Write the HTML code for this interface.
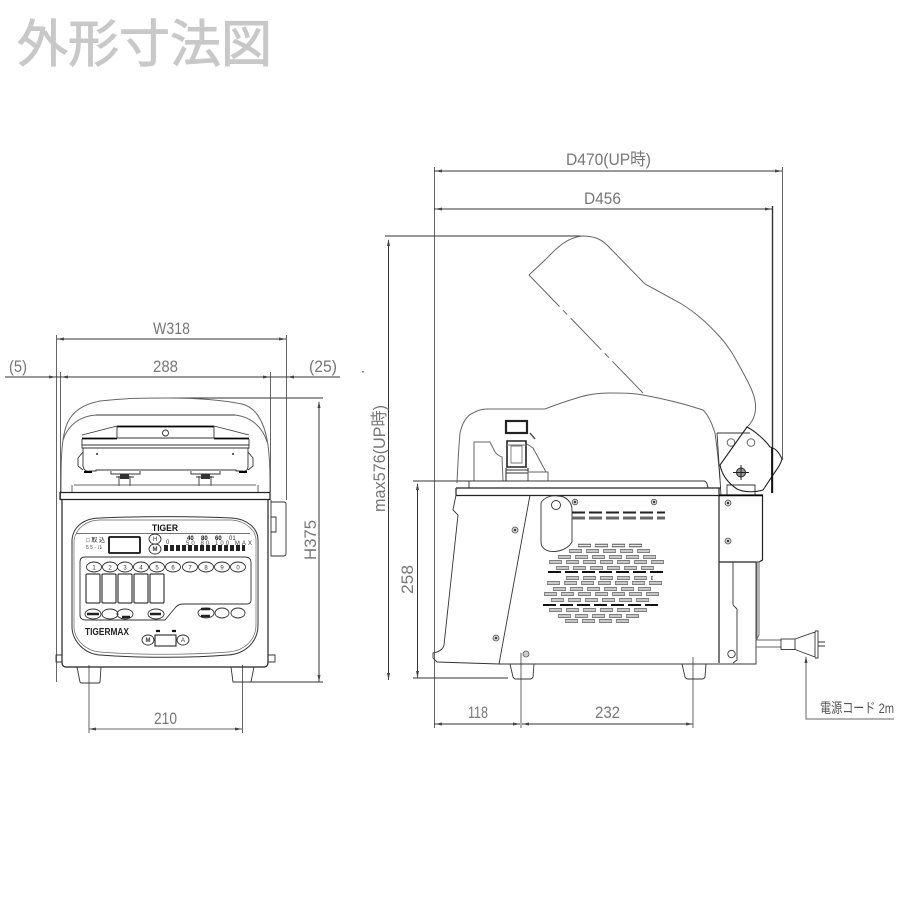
<!DOCTYPE html>
<html lang="ja">
<head>
<meta charset="utf-8">
<title>外形寸法図</title>
<style>
html,body{margin:0;padding:0;background:#fff;width:900px;height:900px;overflow:hidden}
svg{display:block;filter:blur(.35px)}
text{font-family:"Liberation Sans","Noto Sans CJK JP",sans-serif}
.d{font-size:17px;fill:#777;text-anchor:start}
path,rect,circle,ellipse{vector-effect:none}
.l{fill:none;stroke:#333;stroke-width:.9}
.g{fill:none;stroke:#666;stroke-width:1}
.dk{fill:none;stroke:#333;stroke-width:1}
.t{fill:none;stroke:#222;stroke-width:1.2}
.s{fill:none;stroke:#555;stroke-width:3.6;stroke-dasharray:13 4}
.w{fill:none;stroke:#eee;stroke-width:1.4;stroke-dasharray:12 5}
.a{fill:#444}
.sc{fill:#ccc;stroke:#555;stroke-width:.8}
.p{font-size:6px;fill:#333;text-anchor:middle}
</style>
</head>
<body>
<svg width="900" height="900" viewBox="0 0 900 900" xmlns="http://www.w3.org/2000/svg">
<rect width="900" height="900" fill="#fff"/>
<text x="17" y="62" font-size="51" fill="#c8c8c8" stroke="#c8c8c8" stroke-width="1" style="font-family:'Noto Sans CJK JP',sans-serif">外形寸法図</text>

<!-- ===== FRONT VIEW dimensions ===== -->
<path class="g" d="M56.500 335V682M286.500 335V500M60.500 372V500M270.500 372V492"/>
<path class="dk" d="M57 339H286M5 377H340M168 398H323M243 682H323M319 402V682"/>
<path class="g" d="M89 665V733M242.500 665V733M89 729H242"/>
<path class="a" d="M57 339l7-1.500v3zM286 339l-7-1.500v3zM56 377l-7-1.500v3zM61 377l7-1.500v3zM270 377l-7-1.500v3zM287 377l7-1.500v3zM319 401l-1.500 7h3zM319 682l-1.500-7h3zM89 729l7-1.500v3zM242 729l-7-1.500v3z"/>
<text class="d" x="153" y="334" textLength="37" lengthAdjust="spacingAndGlyphs">W318</text>
<text class="d" x="153" y="372" textLength="25" lengthAdjust="spacingAndGlyphs">288</text>
<text class="d" x="9" y="372" textLength="18" lengthAdjust="spacingAndGlyphs">(5)</text>
<text class="d" x="309" y="372" textLength="28" lengthAdjust="spacingAndGlyphs">(25)</text>
<text class="d" transform="translate(316 560) rotate(-90)" textLength="40" lengthAdjust="spacingAndGlyphs">H375</text>
<text class="d" x="154" y="724" textLength="23" lengthAdjust="spacingAndGlyphs">210</text>

<!-- ===== FRONT VIEW hood ===== -->
<path class="g" d="M61 492C61 465 61 445 65 430C69 414 80 405 100 401C125 398 145 398 168 398C195 398 222 400 242 404C258 408 265 425 268 445C270 460 270 475 270 492"/>
<path class="g" d="M63 440C68 425 80 416 96 415H235C252 417 263 428 267 442"/>
<path class="l" d="M96 415H235"/>
<path class="l" d="M82 435L117 426M214 426L249 435"/>
<path style="fill:none;stroke:#000;stroke-width:1.800" d="M117 426.500H214M82 438.500H117M214 438.500H249"/>
<path class="l" d="M117 426V438H214V426"/>
<circle class="l" cx="165.500" cy="433" r="3"/>
<path class="l" d="M82 439V448H249V439M82 445H249"/>
<path class="l" d="M83 448V466Q84 472 90 471H96V470H236V471H242Q248 472 248 466V448"/>
<path style="fill:none;stroke:#000;stroke-width:2" d="M84 472h8M239 472h8"/>
<path class="l" d="M83 452L78 458V466L83 470M248 452L253 458V466L248 470"/>
<circle cx="97" cy="454" r="1" fill="#333"/><circle cx="233" cy="454" r="1" fill="#333"/>
<path class="l" d="M111 471V474H140V471M191 471V474H220V471M119 476V486M130 476V486M199 476V486M211 476V486M116 477h18M196 477h18"/>
<path d="M120 474h9v5h-9zM201 474h9v5h-9z" fill="#333"/>
<path class="g" d="M72 485V492M258 485V492M74 485H256"/>
<path class="t" d="M60 492.500H270M60 499.500H270M60 492V500M270 492V500"/>

<!-- ===== FRONT body ===== -->
<path class="t" d="M62 500V662Q62 667 66 667H264Q268 667 268 662V500"/>
<path class="l" d="M62 655H56V662H62M268 655H275V662H268"/>
<path class="l" d="M271 502H284Q286 502 286 504V553Q286 556 284 556H271V500M271 517H276V532H271"/>
<path class="l" d="M77 667L80 682Q80 683 82 683H98Q100 683 100 682L101 667M231 667L233 682H251L254 667"/>

<!-- panel -->
<path class="dk" d="M72 540C73 526 85 518 100 518C150 516 190 516 232 518C247 519 258 528 258 540V625C258 642 245 654 228 655C190 658 140 658 100 655C85 654 73 642 72 628Z"/>
<path style="fill:none;stroke:#666;stroke-width:.7" d="M74 540C76 528 87 520 100 520H232C245 521 256 530 256 540V625C256 640 244 651 228 652C190 655 140 655 100 652C86 651 75 640 74 628Z"/>
<text x="152" y="531" font-size="9" font-weight="bold" fill="#111" textLength="26" lengthAdjust="spacingAndGlyphs">TIGER</text>
<path style="fill:none;stroke:#444;stroke-width:.7" d="M76 533.500H250"/>
<rect x="109" y="537" width="31" height="16" rx="1" fill="none" stroke="#111" stroke-width="1.800"/>
<text x="86" y="542" font-size="6" fill="#222">□ 取 込</text>
<text x="86" y="549" font-size="5" fill="#444">5 5 - ル</text>
<ellipse class="l" cx="155" cy="539" rx="6" ry="5"/><ellipse class="l" cx="155" cy="549" rx="6" ry="5"/>
<text class="p" x="155" y="541">H</text><text class="p" x="155" y="551" font-weight="bold">M</text>
<path d="M164 548H245" stroke="#222" stroke-width="6" stroke-dasharray="4 2" fill="none"/>
<text x="166" y="544" font-size="6" fill="#333">0</text>
<text x="187" y="540" font-size="6" font-weight="bold" fill="#111">40</text>
<text x="201" y="540" font-size="6" font-weight="bold" fill="#111">80</text>
<text x="215" y="540" font-size="6" font-weight="bold" fill="#111">60</text>
<text x="229" y="540" font-size="6" fill="#333">01</text>
<text x="186" y="545" font-size="6" fill="#444" textLength="66">50 80 100 MAX</text>

<!-- button area -->
<path class="l" d="M85 557H245Q251 557 251 563V600Q251 604 247 604H183Q178 604 175 608L165 620H86Q80 620 80 615V562Q80 557 85 557Z"/>
<g class="l">
<ellipse cx="94" cy="567" rx="7.500" ry="5"/><ellipse cx="110" cy="567" rx="7.500" ry="5"/><ellipse cx="125" cy="567" rx="7.500" ry="5"/><ellipse cx="141" cy="567" rx="7.500" ry="5"/><ellipse cx="157" cy="567" rx="7.500" ry="5"/><ellipse cx="173" cy="567" rx="7.500" ry="5"/><ellipse cx="190" cy="567" rx="7.500" ry="5"/><ellipse cx="206" cy="567" rx="7.500" ry="5"/><ellipse cx="222" cy="567" rx="7.500" ry="5"/><ellipse cx="238" cy="567" rx="7.500" ry="5"/>
</g>
<g class="p"><text x="94" y="569.500">1</text><text x="110" y="569.500">2</text><text x="125" y="569.500">3</text><text x="141" y="569.500">4</text><text x="157" y="569.500">5</text><text x="173" y="569.500">6</text><text x="190" y="569.500">7</text><text x="206" y="569.500">8</text><text x="222" y="569.500">9</text><text x="238" y="569.500">0</text></g>
<g fill="none" stroke="#111" stroke-width="1">
<rect x="86" y="574" width="14" height="29" rx="1"/><rect x="102" y="574" width="14" height="29" rx="1"/><rect x="118" y="574" width="14" height="29" rx="1"/><rect x="134" y="574" width="14" height="29" rx="1"/><rect x="150" y="574" width="14" height="29" rx="1"/>
</g>
<g class="l"><ellipse cx="93" cy="614" rx="8" ry="5"/><ellipse cx="110" cy="614" rx="8" ry="5"/><ellipse cx="125" cy="614" rx="8" ry="5"/><ellipse cx="156" cy="614" rx="8" ry="5"/><ellipse cx="206" cy="613" rx="8" ry="5"/><ellipse cx="222" cy="613" rx="7" ry="5"/><ellipse cx="238" cy="613" rx="7" ry="5"/></g>
<path d="M87 614h12M150 614h11M122 617h8M201 609h9M201 616h9" stroke="#222" stroke-width="2.400" fill="none"/>
<text x="85" y="635" font-size="10" font-weight="bold" fill="#222" textLength="44" lengthAdjust="spacingAndGlyphs">TIGERMAX</text>
<rect x="155" y="635" width="21" height="11" fill="none" stroke="#111" stroke-width="1"/>
<ellipse class="l" cx="148" cy="640" rx="6" ry="5"/><ellipse class="l" cx="183" cy="640" rx="6" ry="5"/>
<text class="p" x="148" y="642" font-weight="bold">M</text><text class="p" x="183" y="642">A</text>
<path d="M156 631h4M172 631h4" stroke="#111" stroke-width="2.200"/>

<!-- ===== SIDE VIEW dimensions ===== -->
<path class="g" d="M434.500 167V728M782.500 167V460"/>
<path style="fill:none;stroke:#333;stroke-width:1.400" d="M772.500 206V493"/>
<path class="dk" d="M434 171H782M434 209H772M385 236H581M388.500 240V680M413 481H470M413 678H508M417.500 484V678M434 724H520M522 724H693"/>
<path class="g" d="M521 653V728M693 657V728"/>
<path class="a" d="M435 171l7-1.500v3zM782 171l-7-1.500v3zM435 209l7-1.500v3zM772 209l-7-1.500v3zM388.500 239l-1.500 7h3zM388.500 680l-1.500-7h3zM417.500 483l-1.500 7h3zM417.500 678l-1.500-7h3zM435 724l7-1.500v3zM520 724l-7-1.500v3zM522 724l7-1.500v3zM693 724l-7-1.500v3z"/>
<text class="d" x="566" y="165" textLength="85" lengthAdjust="spacingAndGlyphs">D470(UP時)</text>
<text class="d" x="584" y="204" textLength="37" lengthAdjust="spacingAndGlyphs">D456</text>
<text class="d" transform="translate(385 512) rotate(-90)" textLength="107" lengthAdjust="spacingAndGlyphs">max576(UP時)</text>
<text class="d" transform="translate(413 594) rotate(-90)" textLength="29" lengthAdjust="spacingAndGlyphs">258</text>
<text class="d" x="468" y="718" textLength="20" lengthAdjust="spacingAndGlyphs">118</text>
<text class="d" x="595" y="718" textLength="25" lengthAdjust="spacingAndGlyphs">232</text>

<!-- lid -->
<path class="g" d="M529 275L545 260C555 250 565 238 582 236C592 236 600 238 607 245L645 284L680 303C698 314 710 326 720 337C730 348 735 358 740 367C750 385 755 395 755.500 405C756 414 753 422 746 428"/>
<path style="fill:none;stroke:#666;stroke-width:1;stroke-dasharray:44 5 6 5" d="M529 275L643 393"/>
<!-- hood -->
<path class="g" d="M457 483C458 460 459 445 460 433C463 420 468 415 473 413C478 410 482 409 487 409H545C555 405 567 401 580 397C590 394 600 393 610 393C622 393 633 393 643 395C665 399 685 404 703 410C709 416 712 424 715 433C717 448 719 465 720 480"/>
<!-- handle/detail -->
<rect x="506" y="421" width="21" height="12" fill="none" stroke="#222" stroke-width="2.200"/>
<path d="M530 433L535 439" stroke="#555" stroke-width="1.500"/>
<path class="g" d="M474 481V442H490L495 452C498 456 500 456 502 457L503 481"/>
<path d="M507 441H526V467H507Z" fill="none" stroke="#222" stroke-width="1.600"/>
<path style="fill:none;stroke:#777;stroke-width:.9" d="M511 446H522V463H511ZM507 445H526"/>
<path style="fill:none;stroke:#333;stroke-width:1.100" d="M506 468V481M528 468V481M506 470H528M506 473H528"/>
<path class="g" d="M527 444L533 448L546 472"/>
<path class="g" d="M528 472H548V481H528Z"/>
<path class="l" d="M469 481V488M469 481H704Q707 481 708 488"/>
<path class="t" d="M456 488H721M456 495.500H720M456 488V495"/>

<!-- hinge -->
<path class="l" d="M717 433H750M717 433L721 495"/>
<path class="l" d="M727 495V485H755V495"/>
<circle class="g" cx="731" cy="442.500" r="3.800"/><circle class="g" cx="751" cy="442.500" r="3.800"/>
<path style="fill:none;stroke:#222;stroke-width:1.100" d="M747 427L720 465C722 475 728 483 737 489C745 493 756 492 763 490L775 472C778 468 781 463 782 459C779 452 775 448 770 447C765 440 755 431 747 427Z"/>
<path style="fill:none;stroke:#111;stroke-width:1.800" d="M772 448V493"/>
<circle cx="741" cy="472.500" r="4.500" fill="#999" stroke="#222"/><path d="M741 465V480M733 472.500H749" stroke="#222" stroke-width="1"/>

<!-- body side -->
<path class="l" d="M456 495L453 510L458 515L444 645C443 650 438 652 433 653L433 658L437 662L499 664H756V562M499 664L530 495"/>
<path class="t" d="M719 488V663M719 495H762.500V560L759 562H719"/>
<path style="fill:none;stroke:#000;stroke-width:1.600" d="M719 495.500H763"/>
<path class="l" d="M733 562V605L737 609V660L733 663"/>
<circle class="l" cx="731.500" cy="654" r="3.700"/>
<path class="g" d="M756 562H759V635L756 640M757 562V640"/>
<!-- feet -->
<path class="l" d="M510 664L513 677Q514 679 516 679H530Q532 679 533 677L534 664M682 664L685 677Q686 679 688 679H702Q704 679 705 677L706 664"/>

<!-- flap -->
<path class="l" d="M541 503C544 497 552 495 558 496C566 496 572 502 572 510V542C566 552 552 553 546 550C541 547 541 544 541 540Z"/>
<circle class="l" cx="556" cy="505" r="4.500"/>

<!-- screws -->
<circle class="sc" cx="515" cy="530" r="3"/><circle class="sc" cx="496" cy="638" r="3"/><circle class="sc" cx="575" cy="502" r="2.800"/><circle class="sc" cx="654" cy="502" r="2.800"/><circle class="sc" cx="728" cy="503" r="3"/><circle class="sc" cx="728" cy="541" r="3"/><circle class="sc" cx="526" cy="654" r="3"/>
<circle cx="515" cy="530" r="1" fill="#111"/><circle cx="496" cy="638" r="1" fill="#111"/><circle cx="575" cy="502" r="1" fill="#111"/><circle cx="654" cy="502" r="1" fill="#111"/><circle cx="728" cy="503" r="1" fill="#111"/><circle cx="728" cy="541" r="1" fill="#111"/>

<!-- upper slots -->
<path d="M572 512.500H665" stroke="#222" stroke-width="2" stroke-dasharray="13 4" fill="none"/>
<path d="M572 518H665" stroke="#666" stroke-width="3" stroke-dasharray="13 4" fill="none"/>

<!-- vent slots -->
<g>
<path class="s" d="M578 545.500H642"/><path class="s" d="M569 551H650"/><path class="s" d="M558 557H657"/><path class="s" d="M549 562H665"/><path class="s" d="M556 568H655"/><path class="s" d="M566 578H653"/><path class="s" d="M547 583H662"/><path class="s" d="M553 589H652"/><path class="s" d="M544 594H660"/><path class="s" d="M551 600H649"/><path class="s" d="M549 610H647"/><path class="s" d="M558 616H639"/><path class="s" d="M565 621H629"/>
<path class="w" d="M578.500 545.500H642"/><path class="w" d="M569.500 551H650"/><path class="w" d="M558.500 557H657"/><path class="w" d="M549.500 562H665"/><path class="w" d="M556.500 568H655"/><path class="w" d="M566.500 578H653"/><path class="w" d="M547.500 583H662"/><path class="w" d="M553.500 589H652"/><path class="w" d="M544.500 594H660"/><path class="w" d="M551.500 600H649"/><path class="w" d="M549.500 610H647"/><path class="w" d="M558.500 616H639"/><path class="w" d="M565.500 621H629"/>
<path d="M548 572H664M543 605H658" stroke="#111" stroke-width="2" stroke-dasharray="13 4" fill="none"/>
</g>

<!-- cord and plug -->
<path class="g" d="M756 640H781M756 647H781"/>
<rect class="l" x="781" y="639" width="14" height="10.500"/>
<path class="l" d="M795 639L815 632V657L795 649.500M815 631H818V658H815M818 642H825M818 646H825"/>
<path class="g" d="M806 657V719H894"/>
<path class="a" d="M806 656l-1.500 7h3z"/>
<text x="820" y="713" font-size="14" fill="#555" textLength="74" lengthAdjust="spacingAndGlyphs">電源コード 2m</text>
<rect x="362" y="371" width="2" height="1.500" fill="#888"/>
</svg>
</body>
</html>
